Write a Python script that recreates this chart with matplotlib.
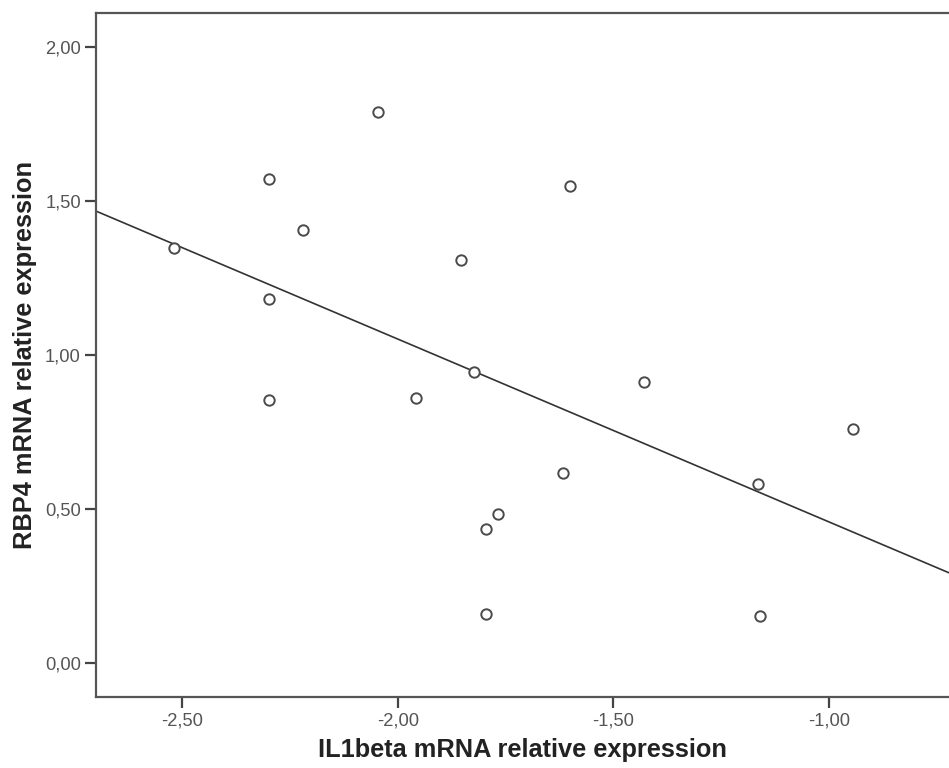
import matplotlib.pyplot as plt
import numpy as np
from matplotlib.ticker import FuncFormatter

# IL1beta vs RBP4 relative expression
il1beta = [-2.52, -2.30, -2.22, -2.30, -2.30, -2.045, -1.60, -1.853, -1.823,
           -1.957, -1.618, -1.768, -1.795, -1.795, -1.43, -0.945, -1.165, -1.159]
rbp4 = [1.346, 1.570, 1.405, 1.181, 0.853, 1.790, 1.548, 1.308, 0.945,
        0.859, 0.618, 0.482, 0.434, 0.160, 0.913, 0.758, 0.580, 0.153]

x_ticks = [-2.5, -2.0, -1.5, -1.0]
y_ticks = [0.0, 0.5, 1.0, 1.5, 2.0]

plt.rcParams['font.family'] = ['Liberation Sans', 'DejaVu Sans']

fig = plt.figure(figsize=(9.49, 7.68), dpi=100)
ax = fig.add_axes([0.1012, 0.0924, 0.8988, 0.8913])

x = np.array(il1beta)
y = np.array(rbp4)
ax.scatter(x, y, s=56, facecolors='white', edgecolors='#4a4a4a', linewidths=1.4, zorder=3)

# least squares fit line across the whole axis
slope, intercept = np.polyfit(x, y, 1)
xl = np.array([-2.7, -0.72])
ax.plot(xl, slope * xl + intercept, color='#333333', lw=1.2, zorder=2)

ax.set_xlim(-2.7, -0.7217)
ax.set_ylim(-0.111, 2.112)
ax.set_xticks(x_ticks)
ax.set_yticks(y_ticks)
fmt = FuncFormatter(lambda v, p: f"{v:.2f}".replace('.', ','))
ax.xaxis.set_major_formatter(fmt)
ax.yaxis.set_major_formatter(fmt)

for side in ['left', 'bottom', 'top']:
	ax.spines[side].set_color('#555555')
	ax.spines[side].set_linewidth(1.6)
ax.spines['right'].set_visible(False)
ax.tick_params(axis='both', length=8, width=1.6, color='#444444',
               labelsize=13.2, labelcolor='#555555', pad=3)

ax.set_xlabel('IL1beta mRNA relative expression', fontsize=18.3, fontweight='bold',
              color='#222222', labelpad=6)
ax.set_ylabel('RBP4 mRNA relative expression', fontsize=18.3, fontweight='bold',
              color='#222222', labelpad=6)

fig.savefig('out.png', dpi=100)
